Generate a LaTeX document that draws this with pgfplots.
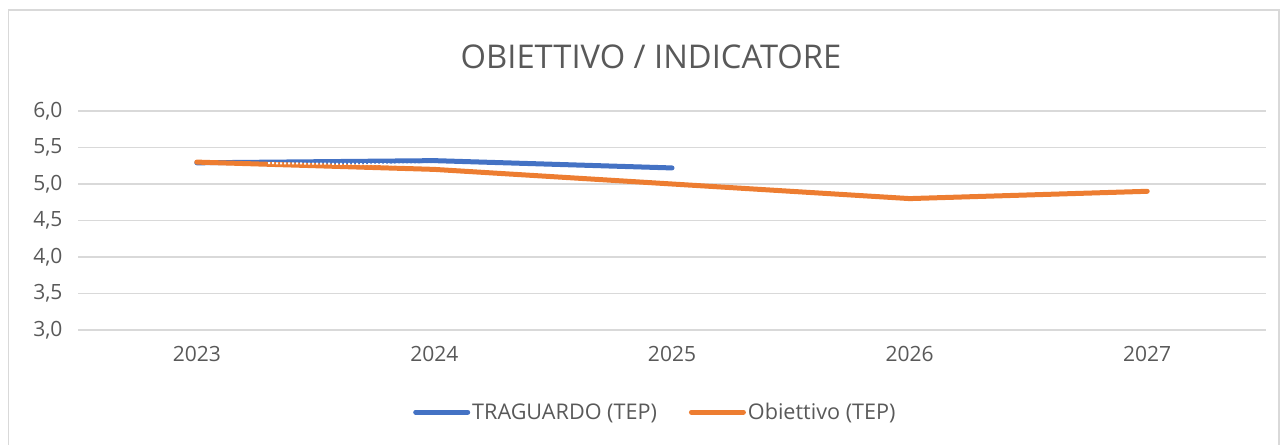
\documentclass[border=0pt]{standalone}
\usepackage{pgfplots}
\pgfplotsset{compat=1.18}
\usepackage{fontspec}
\setmainfont{Open Sans}
\definecolor{cblue}{HTML}{4472C4}
\definecolor{corange}{HTML}{ED7D31}
\definecolor{ctext}{HTML}{595959}
\definecolor{cgrid}{HTML}{D9D9D9}
\begin{document}
\begin{tikzpicture}[x=1pt,y=1pt]
\path[use as bounding box] (0,0) rectangle (1281,444);
\draw[cgrid, line width=1.5pt] (8.5,-5) rectangle (1279,434);
\node[text=ctext, font=\fontsize{32.7}{38}\selectfont] at (651,387) {OBIETTIVO / INDICATORE};
\begin{axis}[
  at={(78pt,114pt)}, anchor=south west,
  scale only axis, width=1188pt, height=219pt,
  xmin=2022.5, xmax=2027.5, ymin=3, ymax=6,
  xtick={2023,2024,2025,2026,2027},
  ytick={3,3.5,...,6},
  ymajorgrids, grid style={cgrid, line width=1.2pt},
  axis line style={draw=none},
  major tick length=0pt,
  tick label style={text=ctext, font=\fontsize{21}{24}\selectfont},
  /pgf/number format/assume math mode=true,
  xticklabel style={/pgf/number format/1000 sep={}, yshift=-13pt},
  yticklabel style={/pgf/number format/.cd, use comma, fixed, fixed zerofill, precision=1, /tikz/.cd, xshift=-12pt},
  legend columns=2,
  legend style={draw=none, fill=none, at={(0.486,-0.375)}, anchor=center,
    font=\fontsize{21.6}{24}\selectfont, text=ctext,
    /tikz/every even column/.append style={column sep=30pt}},
  legend cell align=left,
  legend image code/.code={\draw[#1, line width=5pt, line cap=round] (0pt,0pt) -- (52pt,0pt);},
]
\addplot[cblue, line width=5pt, line cap=round] coordinates {(2023,5.29) (2024,5.32) (2025,5.22)};
\addlegendentry{TRAGUARDO (TEP)}
\addplot[corange, line width=5pt, line cap=round] coordinates {(2023,5.30) (2024,5.20) (2025,5.0) (2026,4.8) (2027,4.9)};
\addlegendentry{Obiettivo (TEP)}
\addplot[white, line width=2pt, dotted, forget plot] coordinates {(2023.3,5.285) (2024,5.265)};
\end{axis}
\end{tikzpicture}
\end{document}
